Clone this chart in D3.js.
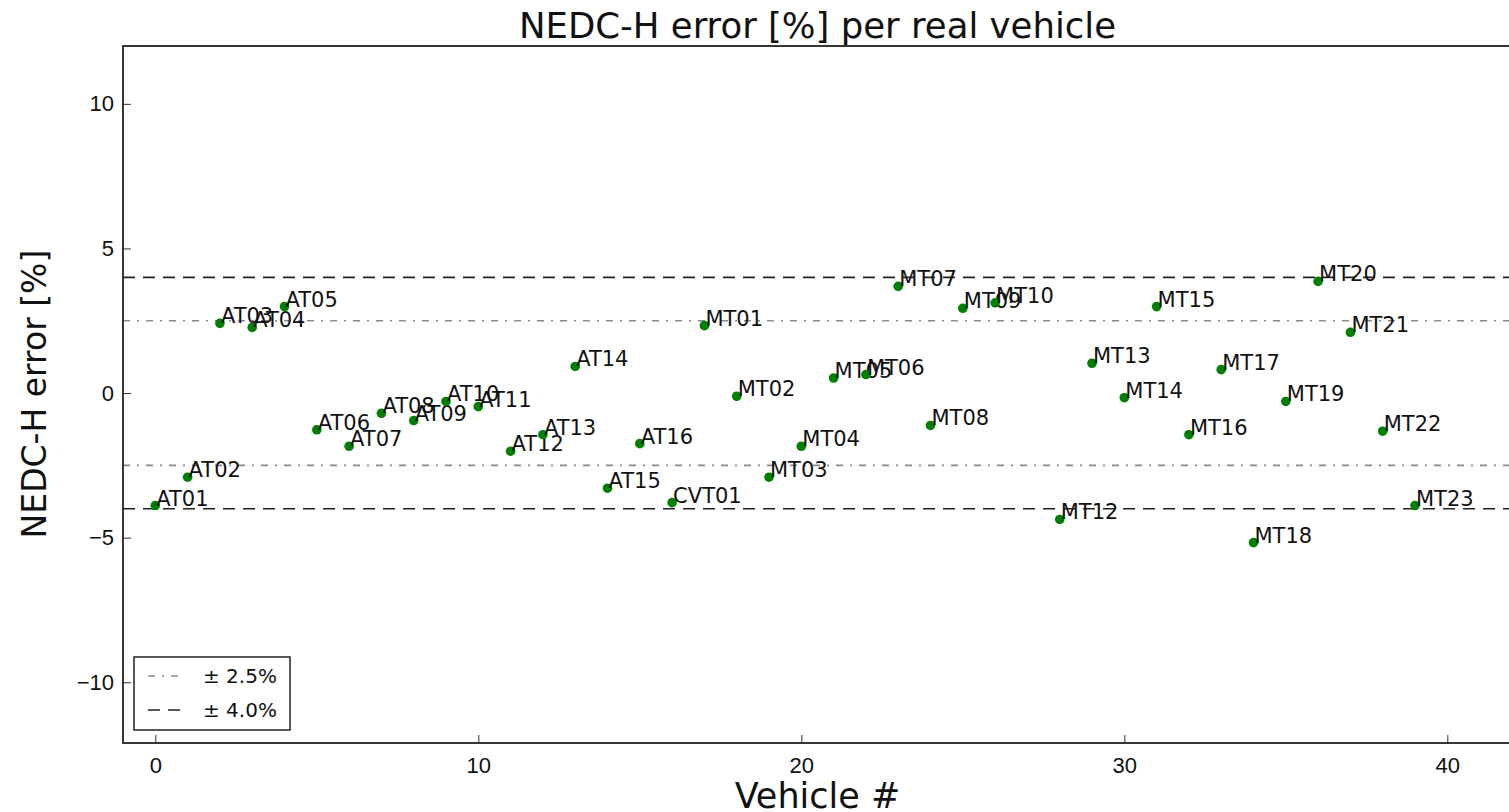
<!DOCTYPE html>
<html>
<head>
<meta charset="utf-8">
<script src="https://cdn.jsdelivr.net/npm/d3@7"></script>
<style>
  body { margin: 0; overflow: hidden; background: #fff; }
  svg { display: block; font-family: 'DejaVu Sans', sans-serif; }
  .point-label { font-size: 21px; fill: #111; }
  .tick text { font-size: 22px; fill: #111; }
</style>
</head>
<body>
<svg width="1509" height="812"></svg>
<script>
// vehicle index on the x axis (no MT11 in the data, index 27 is empty)
const vehicleIndex = [0, 1, 2, 3, 4, 5, 6, 7, 8, 9, 10, 11, 12, 13, 14, 15, 16,
  17, 18, 19, 20, 21, 22, 23, 24, 25, 26, 28, 29, 30, 31, 32, 33, 34, 35, 36, 37, 38, 39]
const vehicleNames = ['AT01', 'AT02', 'AT03', 'AT04', 'AT05', 'AT06', 'AT07', 'AT08', 'AT09', 'AT10',
  'AT11', 'AT12', 'AT13', 'AT14', 'AT15', 'AT16', 'CVT01',
  'MT01', 'MT02', 'MT03', 'MT04', 'MT05', 'MT06', 'MT07', 'MT08', 'MT09', 'MT10',
  'MT12', 'MT13', 'MT14', 'MT15', 'MT16', 'MT17', 'MT18', 'MT19', 'MT20', 'MT21', 'MT22', 'MT23']
const errors = [-3.89, -2.91, 2.41, 2.27, 2.99, -1.27, -1.84, -0.70, -0.95, -0.29,
  -0.47, -2.01, -1.44, 0.92, -3.29, -1.75, -3.79,
  2.33, -0.11, -2.91, -1.84, 0.52, 0.64, 3.69, -1.12, 2.93, 3.12,
  -4.37, 1.03, -0.16, 2.99, -1.44, 0.81, -5.17, -0.29, 3.86, 2.10, -1.32, -3.89]

// tolerance bands
const bandLevels = [2.5, 4.0]
const bandLabels = ['± 2.5%', '± 4.0%']

const xTicks = [0, 10, 20, 30, 40]
const yTicks = [-10, -5, 0, 5, 10]

const svg = d3.select('svg')

const margin = { left: 123, top: 46, bottom: 743 }

// x range runs past the right edge of the window, like the cropped original
const xScale = d3.scaleLinear()
	.domain([-1, 42])
	.range([margin.left, margin.left + 43 * 32.3])

const yScale = d3.scaleLinear()
	.domain([-12.1, 12])
	.range([margin.bottom, margin.top])

const plotRight = xScale.range()[1]

// band lines (dash-dot grey for 2.5%, dashed dark for 4%)
const bandStyle = {
  2.5: { stroke: '#8a8a8a', dash: '7,7,2,7', width: 1.6 },
  4.0: { stroke: '#222', dash: '12,8', width: 1.6 }
}

bandLevels.forEach(level => {
  [level, -level].forEach(v => {
    svg.append('line')
      .attr('x1', margin.left)
      .attr('x2', plotRight)
      .attr('y1', yScale(v))
      .attr('y2', yScale(v))
      .attr('stroke', bandStyle[level].stroke)
      .attr('stroke-width', bandStyle[level].width)
      .attr('stroke-dasharray', bandStyle[level].dash)
  })
})

// axes - ticks point inward, classic matplotlib look
const xAxis = svg.append('g')
	.attr('transform', `translate(0, ${margin.bottom})`)
	.call(d3.axisBottom(xScale).tickValues(xTicks).tickSizeInner(-8).tickSizeOuter(0).tickPadding(14))

const yAxis = svg.append('g')
	.attr('transform', `translate(${margin.left}, 0)`)
	.call(d3.axisLeft(yScale).tickValues(yTicks).tickSizeInner(-8).tickSizeOuter(0).tickPadding(9))

xAxis.selectAll('.tick line').attr('stroke', '#333').attr('stroke-width', 1)
yAxis.selectAll('.tick line').attr('stroke', '#333').attr('stroke-width', 1)
xAxis.select('.domain').remove()
yAxis.select('.domain').remove()

// frame
svg.append('rect')
	.attr('x', margin.left)
	.attr('y', margin.top)
	.attr('width', plotRight - margin.left)
	.attr('height', margin.bottom - margin.top)
	.attr('fill', 'none')
	.attr('stroke', '#222')
	.attr('stroke-width', 1.8)

// points
const points = svg.selectAll('g.vehicle')
  .data(vehicleNames)
  .enter()
  .append('g')
  .attr('class', 'vehicle')
  .attr('transform', (d, i) => `translate(${xScale(vehicleIndex[i])}, ${yScale(errors[i])})`)

points.append('circle')
	.attr('r', 4.8)
	.attr('fill', '#008000')

points.append('text')
	.attr('class', 'point-label')
	.attr('x', 1)
	.attr('y', 0)
	.text(d => d)

// legend
const legend = svg.append('g')
	.attr('transform', 'translate(134, 657)')

legend.append('rect')
	.attr('width', 156)
	.attr('height', 73)
	.attr('fill', '#fff')
	.attr('stroke', '#222')
	.attr('stroke-width', 1.5)

bandLevels.forEach((level, i) => {
  const rowY = 19 + i * 34
  legend.append('line')
    .attr('x1', 14)
    .attr('x2', 47)
    .attr('y1', rowY)
    .attr('y2', rowY)
    .attr('stroke', bandStyle[level].stroke)
    .attr('stroke-width', bandStyle[level].width)
    .attr('stroke-dasharray', bandStyle[level].dash)
  legend.append('text')
    .attr('x', 69)
    .attr('y', rowY + 7)
    .style('font-size', '20px')
    .attr('fill', '#111')
    .text(bandLabels[i])
})

// titles
const plotCenter = (margin.left + plotRight) / 2

svg.append('text')
	.attr('x', plotCenter)
	.attr('y', 38)
	.attr('text-anchor', 'middle')
	.style('font-size', '35.5px')
	.attr('fill', '#111')
	.text('NEDC-H error [%] per real vehicle')

svg.append('text')
	.attr('x', plotCenter)
	.attr('y', 808)
	.attr('text-anchor', 'middle')
	.style('font-size', '35px')
	.attr('fill', '#111')
	.text('Vehicle #')

svg.append('text')
	.attr('transform', `translate(46, ${yScale(0) + 1}) rotate(-90)`)
	.attr('text-anchor', 'middle')
	.style('font-size', '33px')
	.attr('fill', '#111')
	.text('NEDC-H error [%]')
</script>
</body>
</html>
